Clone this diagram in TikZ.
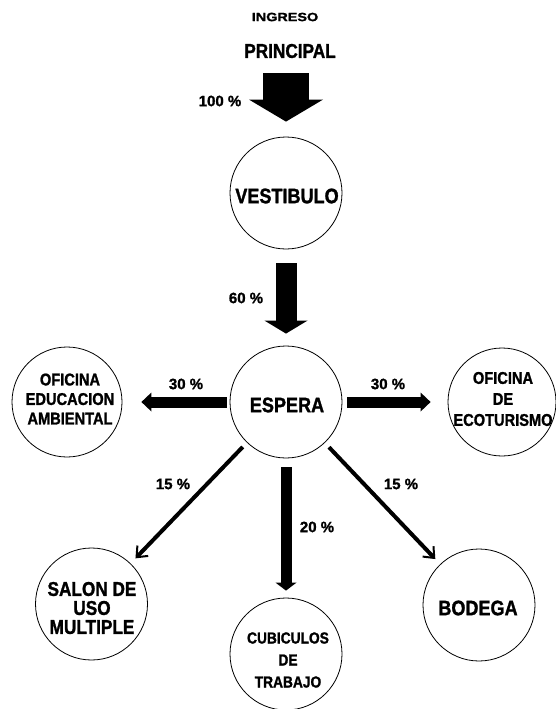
\documentclass[tikz,border=0pt]{standalone}
\usepackage{fontspec}
\setmainfont{Liberation Sans}
\newfontfamily\narrowfont[FakeStretch=0.86,FakeBold=1.3]{Liberation Sans}
\newfontfamily\widefont[FakeStretch=1.2,FakeBold=1.5]{Liberation Sans}
\newfontfamily\pctfont[FakeBold=1.3]{Liberation Sans}
\usetikzlibrary{arrows.meta}
\begin{document}
\begin{tikzpicture}[x=1pt,y=-1pt,
  room/.style={circle,draw=black,line width=0.8pt,minimum size=112pt,inner sep=0pt},
  roomtext/.style={align=center,inner sep=0pt},
  pct/.style={font=\pctfont\bfseries\fontsize{15}{18}\selectfont,inner sep=0pt},
  diag/.style={line width=4pt,-{Straight Barb[length=9pt,width=15pt,line width=2pt]}}
]
\useasboundingbox (0,0) rectangle (555,709);

% top texts
\node[inner sep=0pt,font=\widefont\bfseries\fontsize{12}{14}\selectfont] (ingreso) at (285,17) {INGRESO};
\node[inner sep=0pt,font=\narrowfont\bfseries\fontsize{20}{24}\selectfont] (principal) at (290,51) {PRINCIPAL};
\coordinate (in1) at (286,73);

% circles
\node[room] (vest) at (286,193) {};
\node[roomtext,font=\narrowfont\bfseries\fontsize{21}{24}\selectfont] (vest-t) at (287,196) {VESTIBULO};

\node[room] (esp) at (286,402) {};
\node[roomtext,font=\narrowfont\bfseries\fontsize{21}{24}\selectfont] (esp-t) at (287,405) {ESPERA};

\node[room,minimum size=110pt] (amb) at (67,402) {};
\node[roomtext,font=\narrowfont\bfseries\fontsize{17}{19.5}\selectfont] (amb-t) at (70,399) {OFICINA\\EDUCACION\\AMBIENTAL};

\node[room,minimum size=108pt] (eco) at (502,402) {};
\node[roomtext,font=\narrowfont\bfseries\fontsize{17}{21}\selectfont] (eco-t) at (503,399) {OFICINA\\DE\\ECOTURISMO};

\node[room] (salon) at (91.5,604) {};
\node[roomtext,font=\narrowfont\bfseries\fontsize{20}{19}\selectfont] (salon-t) at (92,608) {SALON DE\\USO\\MULTIPLE};

\node[room] (cub) at (286,654) {};
\node[roomtext,font=\narrowfont\bfseries\fontsize{16}{22}\selectfont] (cub-t) at (288,660) {CUBICULOS\\DE\\TRABAJO};

\node[room] (bod) at (479,605) {};
\node[roomtext,font=\narrowfont\bfseries\fontsize{21}{24}\selectfont] (bod-t) at (478,608) {BODEGA};

% block arrows
\draw[line width=46pt,-{Triangle[length=22pt,width=74pt,line width=0pt]},shorten >=15pt] (in1) -- (in1 |- vest.north);
\draw[line width=21pt,-{Triangle[length=13pt,width=43pt,line width=0pt]},shorten <=14pt,shorten >=12pt] (vest) -- (esp);
\draw[line width=11pt,-{Triangle[length=10pt,width=19pt,line width=0pt]},shorten <=3pt,shorten >=19pt] (esp) -- (amb);
\draw[line width=11pt,-{Triangle[length=10pt,width=19pt,line width=0pt]},shorten <=5pt,shorten >=17pt] (esp) -- (eco);
\draw[line width=11pt,-{Triangle[length=8pt,width=21pt,line width=0pt]},shorten <=9pt,shorten >=7pt] (esp) -- (cub);

% diagonal arrows
\draw[diag,shorten <=6pt,shorten >=7pt] (esp) -- (salon);
\draw[diag,shorten <=6pt,shorten >=7pt] (esp) -- (bod);

% labels
\node[pct] (p100) at (220,101) {100 \%};
\node[pct] (p60) at (246,298) {60 \%};
\node[pct] (p30l) at (186,384) {30 \%};
\node[pct] (p30r) at (388,384) {30 \%};
\node[pct] (p15l) at (173,484) {15 \%};
\node[pct] (p15r) at (401,484) {15 \%};
\node[pct] (p20) at (317,527) {20 \%};
\end{tikzpicture}
\end{document}
